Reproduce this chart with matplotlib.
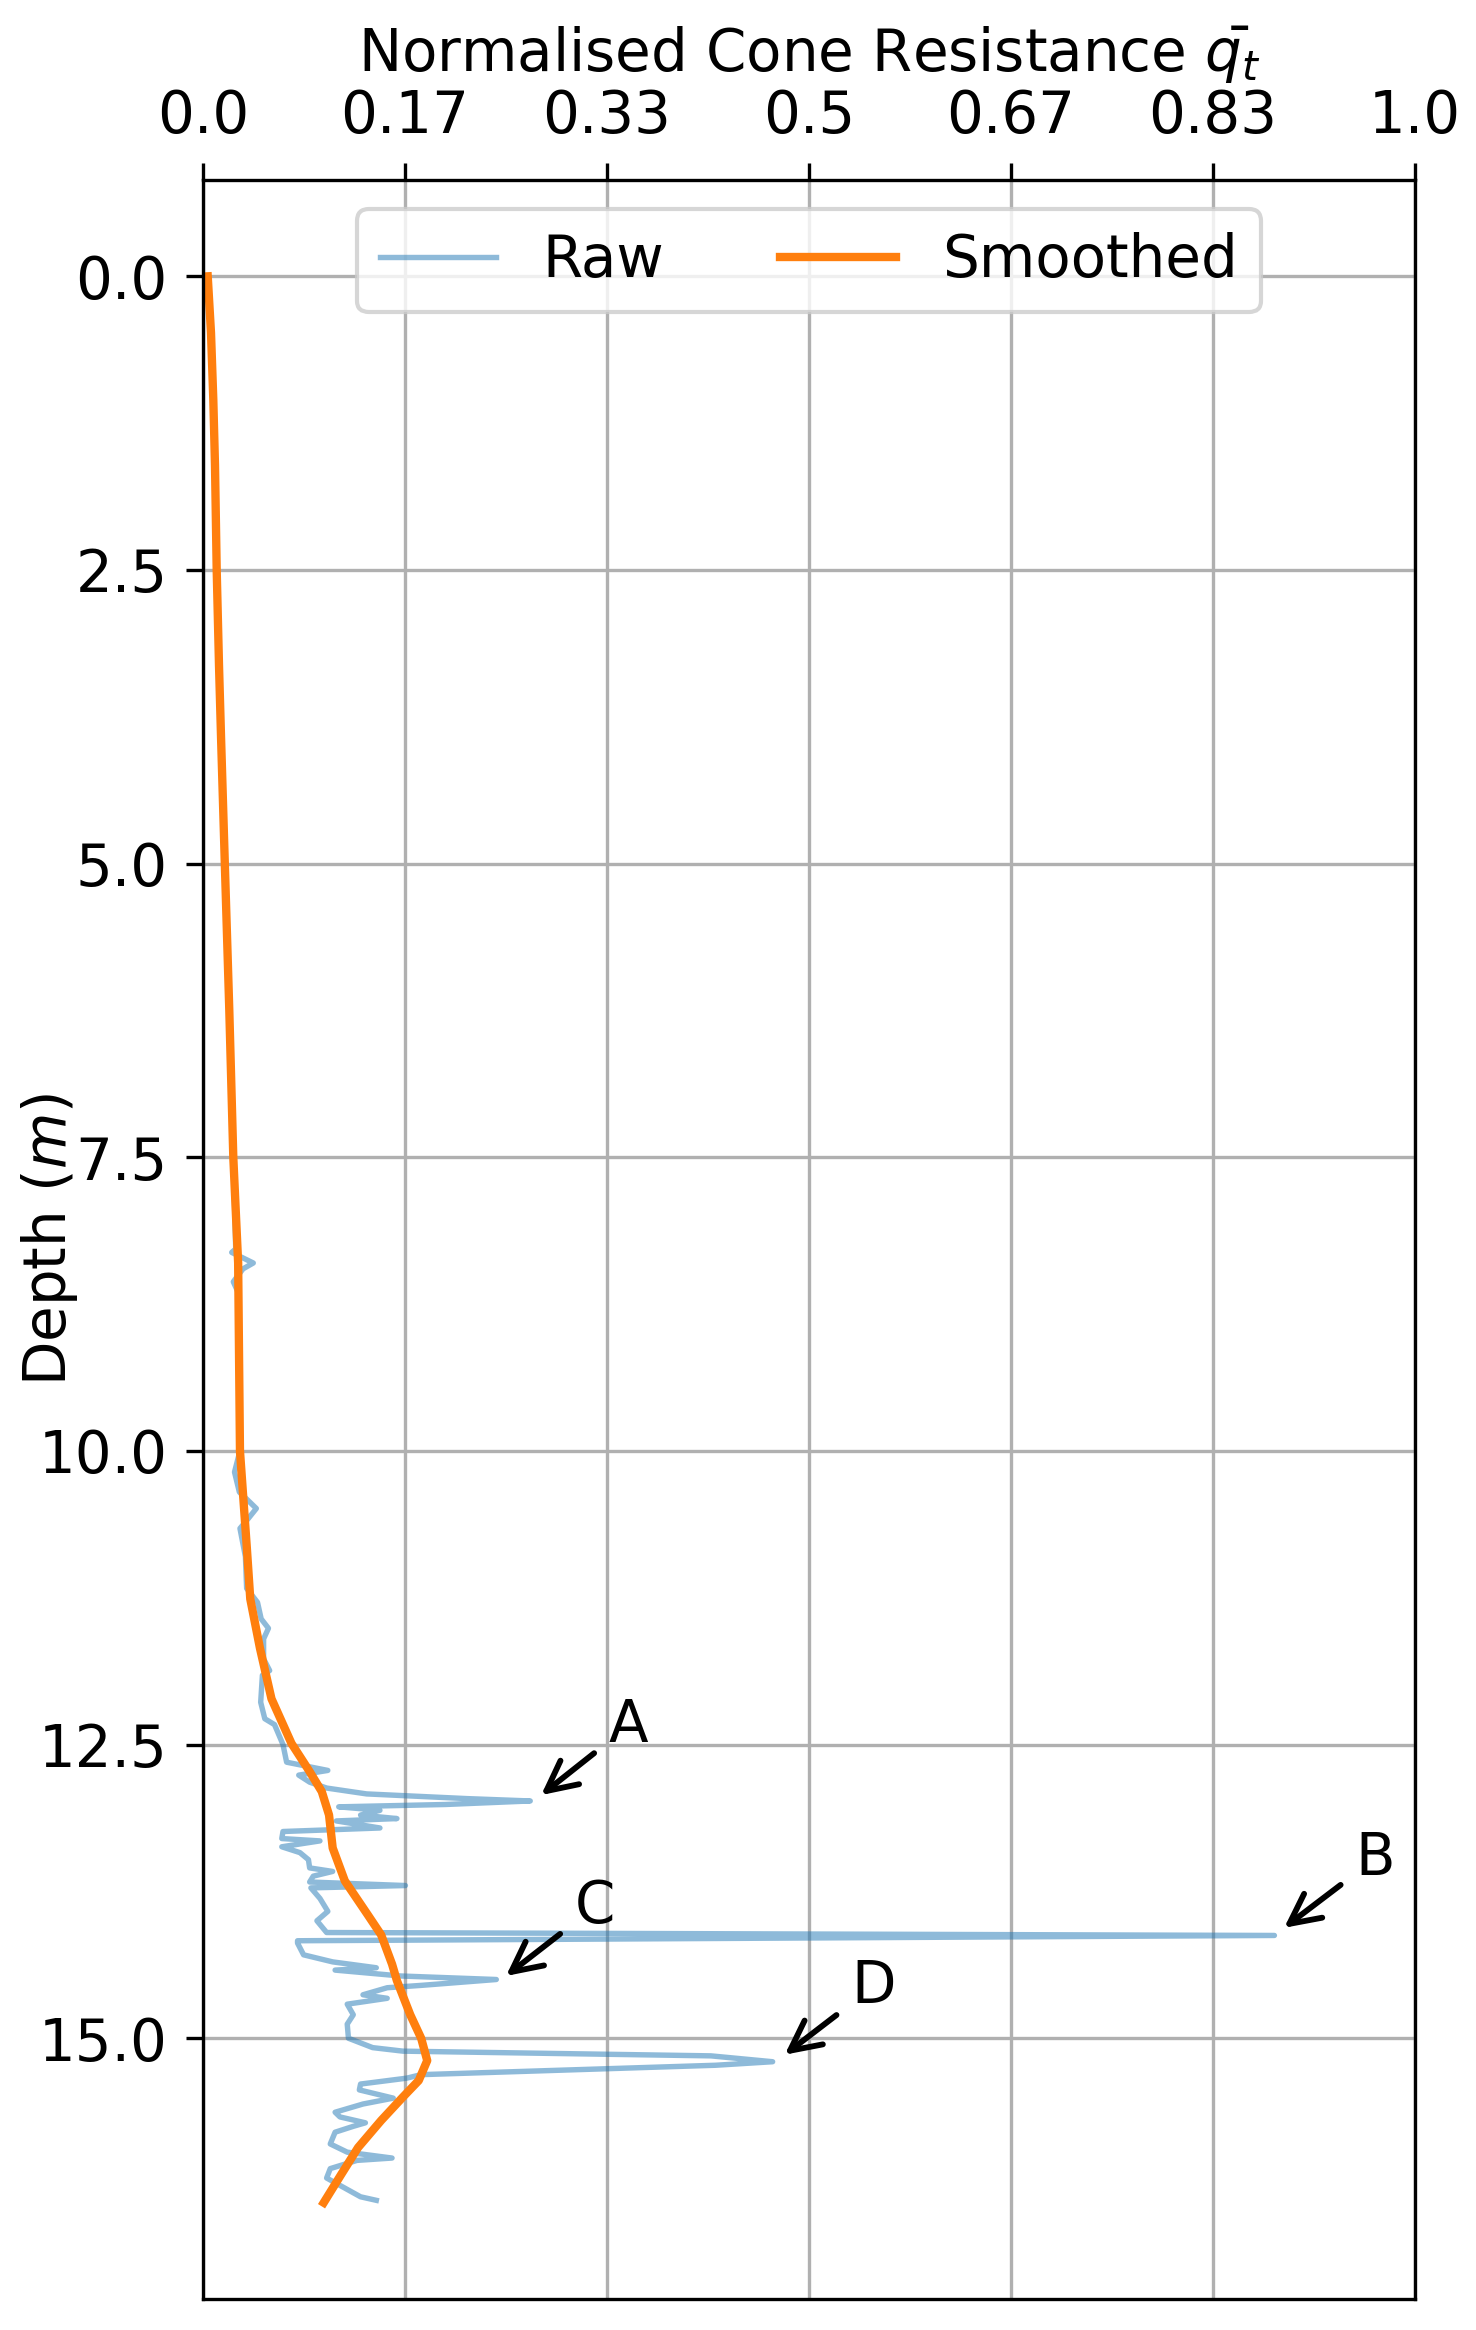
import matplotlib
matplotlib.use("Agg")
import matplotlib.pyplot as plt

plt.rcParams['font.family'] = ['DejaVu Sans']
plt.rcParams['font.size'] = 13.9

# Raw normalised cone resistance profile (depth in m, value)
raw_depth = [0.0, 0.48, 1.05, 1.61, 2.5, 3.31, 3.93, 5.0, 5.6, 6.25, 7.5, 8.28, 8.31, 8.40, 8.45, 8.56, 8.65,
             10.0, 10.18, 10.35, 10.49, 10.58, 10.66, 10.9, 11.17, 11.29, 11.43, 11.51, 11.6,
             11.77, 11.87, 11.91, 12.14, 12.28, 12.33, 12.50, 12.65, 12.72, 12.76, 12.82, 12.87,
             12.92, 12.96, 12.98, 13.01, 13.03, 13.06, 13.10, 13.13, 13.15, 13.21, 13.24, 13.30,
             13.32, 13.37, 13.42, 13.48, 13.55, 13.58, 13.62, 13.67, 13.70, 13.72, 13.81, 13.92,
             14.0, 14.10, 14.125, 14.17, 14.19, 14.29, 14.35, 14.40, 14.42, 14.47, 14.50, 14.55,
             14.57, 14.63, 14.66, 14.71, 14.80, 14.88, 15.0, 15.08, 15.11, 15.15, 15.20, 15.23,
             15.31, 15.34, 15.39, 15.44, 15.51, 15.56, 15.63, 15.67, 15.72, 15.75, 15.80, 15.90,
             15.97, 16.02, 16.04, 16.11, 16.19, 16.27, 16.35, 16.38]
raw_value = [0.0039, 0.0066, 0.0085, 0.0099, 0.0113, 0.0132, 0.0149, 0.018, 0.020, 0.0217, 0.025, 0.027, 0.0237, 0.0415, 0.033, 0.025, 0.029,
             0.0305, 0.026, 0.030, 0.044, 0.037, 0.0305, 0.035, 0.036, 0.045, 0.048, 0.054, 0.050,
             0.050, 0.055, 0.049, 0.0476, 0.051, 0.059, 0.066, 0.069, 0.103, 0.079, 0.088, 0.102,
             0.135, 0.218, 0.270, 0.200, 0.112, 0.146, 0.130, 0.160, 0.110, 0.146, 0.066, 0.065,
             0.0965, 0.065, 0.080, 0.087, 0.088, 0.107, 0.091, 0.088, 0.167, 0.089, 0.0965, 0.103,
             0.094, 0.102, 0.884, 0.078, 0.078, 0.083, 0.107, 0.143, 0.109, 0.163, 0.242, 0.180,
             0.152, 0.132, 0.152, 0.119, 0.124, 0.119, 0.120, 0.140, 0.165, 0.419, 0.470, 0.423,
             0.180, 0.168, 0.130, 0.129, 0.157, 0.132, 0.109, 0.113, 0.134, 0.124, 0.109, 0.105,
             0.119, 0.156, 0.127, 0.105, 0.102, 0.116, 0.130, 0.143]

# Smoothed profile
smooth_depth = [0.0, 0.48, 1.05, 1.61, 2.5, 3.31, 3.93, 5.0, 6.25, 7.5, 8.4, 10.0, 10.8, 11.26, 11.68, 12.11,
                12.49, 12.73, 12.9, 13.1, 13.38, 13.66, 13.95, 14.12, 14.37, 14.51, 14.8,
                15.0, 15.19, 15.36, 15.5, 15.7, 15.93, 16.16, 16.4]
smooth_value = [0.0039, 0.0066, 0.0085, 0.0099, 0.0113, 0.0132, 0.0149, 0.018, 0.0217, 0.025, 0.029, 0.0305, 0.036, 0.039,
                0.047, 0.0565, 0.073, 0.088, 0.098, 0.104, 0.107, 0.117, 0.136, 0.147, 0.156,
                0.160, 0.171, 0.180, 0.185, 0.178, 0.165, 0.147, 0.128, 0.114, 0.0996]

x_ticks = [0.0, 1/6, 2/6, 3/6, 4/6, 5/6, 1.0]
x_tick_labels = ['0.0', '0.17', '0.33', '0.5', '0.67', '0.83', '1.0']
y_ticks = [0.0, 2.5, 5.0, 7.5, 10.0, 12.5, 15.0]

ann_labels = ['A', 'B', 'C', 'D']
ann_tips = [(0.279, 12.93), (0.892, 14.06), (0.250, 14.47), (0.480, 15.14)]
ann_text = [(0.335, 12.48), (0.951, 13.61), (0.307, 14.02), (0.535, 14.70)]

fig = plt.figure(figsize=(1476/300, 2330/300), dpi=300)
ax = fig.add_axes([203/1476, 1 - 2299/2330, (1415-203)/1476, (2299-180)/2330])

ax.plot(raw_value, raw_depth, color='tab:blue', alpha=0.5, lw=1.3, label='Raw')
ax.plot(smooth_value, smooth_depth, color='tab:orange', lw=2.0, label='Smoothed')

ax.set_xlim(0, 1)
ax.invert_yaxis()
ax.xaxis.tick_top()
ax.xaxis.set_label_position('top')
ax.set_xticks(x_ticks)
ax.set_xticklabels(x_tick_labels)
ax.set_yticks(y_ticks)
ax.tick_params(length=4, pad=4.5)
ax.grid(True)
ax.set_xlabel(r'Normalised Cone Resistance $\bar{q_t}$')
ax.set_ylabel('Depth ($m$)')
ax.yaxis.set_label_coords(-0.1015, 0.5)

for lab, tip, txt in zip(ann_labels, ann_tips, ann_text):
    ax.annotate(lab, xy=tip, xytext=txt,
                arrowprops=dict(arrowstyle='->', color='black', lw=1.4,
                                mutation_scale=18, shrinkB=0))

ax.legend(loc='upper center', ncol=2)

fig.savefig('out.png', dpi=300)
